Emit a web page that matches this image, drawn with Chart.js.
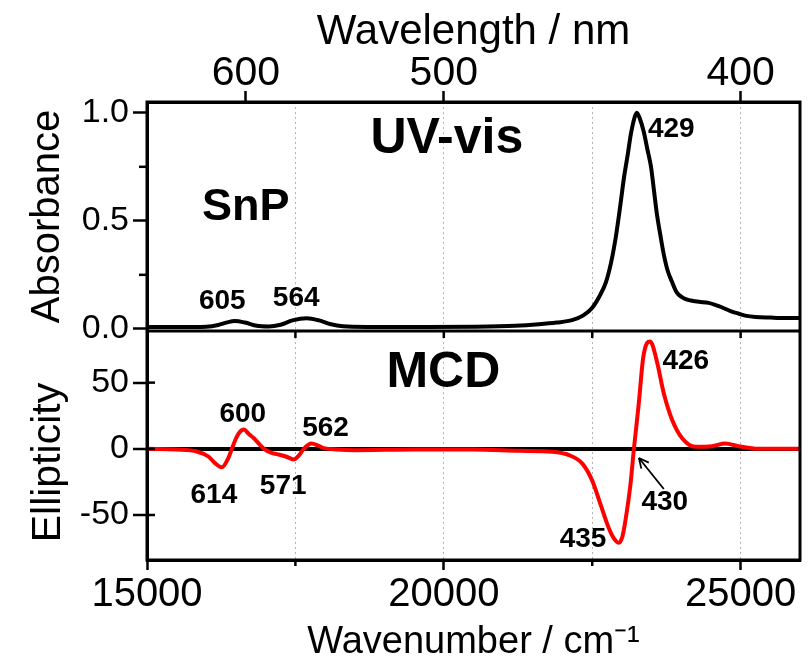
<!DOCTYPE html>
<html>
<head>
<meta charset="utf-8">
<script src="https://cdn.jsdelivr.net/npm/chart.js@4.4.1/dist/chart.umd.min.js"></script>
<style>
html,body{margin:0;padding:0;background:#fff;}
#wrap{width:810px;height:658px;position:relative;}
</style>
</head>
<body>
<div id="wrap"><canvas id="c" width="810" height="658"></canvas></div>
<script>
// ---------- data ----------
const absWavenumber = [15000,15500,16000,16200,16350,16480,16650,16850,17050,17250,17450,17690,17900,18100,18300,18700,19500,20500,21200,21600,21900,22160,22350,22500,22620,22730,22820,22900,22970,23035,23100,23150,23210,23250,23300,23370,23430,23490,23540,23590,23650,23705,23770,23840,23920,24010,24100,24180,24300,24460,24580,24680,24830,24970,25100,25250,25500,25750,26000];
const absValue = [0.008,0.008,0.010,0.018,0.030,0.036,0.029,0.014,0.011,0.019,0.039,0.049,0.039,0.021,0.012,0.009,0.009,0.010,0.014,0.021,0.029,0.040,0.062,0.098,0.150,0.215,0.310,0.430,0.565,0.700,0.810,0.900,0.975,1.000,0.975,0.910,0.830,0.750,0.640,0.530,0.430,0.345,0.270,0.220,0.170,0.147,0.135,0.130,0.125,0.120,0.110,0.100,0.082,0.070,0.060,0.055,0.052,0.050,0.050];

const mcdWavenumber = [15000,15500,15840,16040,16150,16260,16370,16430,16500,16550,16630,16720,16800,16970,17100,17190,17350,17470,17560,17640,17770,17900,17980,18200,18500,19500,20500,21270,21830,22110,22330,22500,22640,22780,22870,22950,23010,23060,23145,23200,23285,23355,23425,23470,23510,23595,23705,23845,24015,24240,24520,24740,24965,25300,26000];
const mcdValue = [0,-0.5,-2,-6,-11,-14,-7,0,8,12,14.5,11,8,0,-3,-4,-6,-8,-5,0,4,2,0.5,-0.5,-1,-0.5,-0.5,-1.5,-2.3,-4.8,-11,-24,-42,-60,-68,-71,-66,-54,-26.5,-1,34.6,67.7,80,81,79,65,42,22,8,1.5,2,4,2,0,0];

const xTickValues = [15000, 17500, 20000, 22500, 25000];
const xTickLabels = ['15000', '', '20000', '', '25000'];
const xMinorTicks = [17500, 22500];
const wavelengthTicks = [600, 500, 400];
const absTickValues = [0, 0.5, 1.0];
const absTickLabels = ['0.0', '0.5', '1.0'];
const absMinorTicks = [0.25, 0.75];
const mcdTickValues = [-50, 0, 50];
const mcdTickLabels = ['-50', '0', '50'];

const peakLabelsAbs = ['429', '605', '564'];
const peakLabelsMcd = ['600', '562', '614', '571', '426', '430', '435'];

// ---------- layout of the annotation texts (data-space anchors) ----------
const FONT = '"Liberation Sans", Arial, Helvetica, sans-serif';
const annotations = [
  {text: 'UV-vis', axis: 'yA', x: 20051, y: 0.814, size: 50},
  {text: 'SnP', axis: 'yA', x: 16664, y: 0.504, size: 45},
  {text: peakLabelsAbs[0], axis: 'yA', x: 23832, y: 0.888, size: 28},
  {text: peakLabelsAbs[1], axis: 'yA', x: 16269, y: 0.092, size: 28},
  {text: peakLabelsAbs[2], axis: 'yA', x: 17513, y: 0.106, size: 28},
  {text: 'MCD', axis: 'yM', x: 19992, y: 46.7, size: 50},
  {text: peakLabelsMcd[0], axis: 'yM', x: 16613, y: 20.25, size: 28},
  {text: peakLabelsMcd[1], axis: 'yM', x: 18008, y: 9.7, size: 28},
  {text: peakLabelsMcd[2], axis: 'yM', x: 16126, y: -40.9, size: 28},
  {text: peakLabelsMcd[3], axis: 'yM', x: 17294, y: -34.1, size: 28},
  {text: peakLabelsMcd[4], axis: 'yM', x: 24076, y: 60.3, size: 28},
  {text: peakLabelsMcd[5], axis: 'yM', x: 23723, y: -46.2, size: 28},
  {text: peakLabelsMcd[6], axis: 'yM', x: 22345, y: -74.2, size: 28}
];
const arrowSpec = {axis: 'yM', from: [23706, -30.4], to: [23286, -6.9]};

Chart.defaults.color = '#000';
Chart.defaults.font.family = FONT;

const decor = {
  id: 'decor',
  afterDatasetsDraw(chart) {
    const {ctx, chartArea: ca, scales} = chart;
    const x = scales.x, yA = scales.yA, yM = scales.yM;
    const line = (x1, y1, x2, y2) => { ctx.beginPath(); ctx.moveTo(x1, y1); ctx.lineTo(x2, y2); ctx.stroke(); };
    ctx.save();
    ctx.strokeStyle = '#000';
    ctx.lineWidth = 3;
    ctx.strokeRect(ca.left, ca.top, ca.right - ca.left, ca.bottom - ca.top);
    line(ca.left, yA.bottom, ca.right, yA.bottom);
    ctx.lineWidth = 2.5;
    xMinorTicks.forEach(v => { const px = x.getPixelForValue(v); line(px, ca.bottom, px, ca.bottom + 6); });
    absMinorTicks.forEach(v => { const py = yA.getPixelForValue(v); line(ca.left - 8, py, ca.left, py); });
    xTickValues.slice(1).forEach(v => { const px = x.getPixelForValue(v); line(px, yM.top, px, yM.top + 7); });
    mcdTickValues.forEach(v => { const py = yM.getPixelForValue(v); line(ca.left, py, ca.left + 8, py); });

    ctx.fillStyle = '#000';
    ctx.textAlign = 'center';
    ctx.textBaseline = 'alphabetic';
    annotations.forEach(a => {
      ctx.font = 'bold ' + a.size + 'px ' + FONT;
      ctx.fillText(a.text, x.getPixelForValue(a.x), scales[a.axis].getPixelForValue(a.y));
    });

    const ys = scales[arrowSpec.axis];
    const tx = x.getPixelForValue(arrowSpec.from[0]), ty = ys.getPixelForValue(arrowSpec.from[1]);
    const hx = x.getPixelForValue(arrowSpec.to[0]), hy = ys.getPixelForValue(arrowSpec.to[1]);
    ctx.lineWidth = 1.8;
    line(tx, ty, hx, hy);
    const ang = Math.atan2(hy - ty, hx - tx);
    const L = 11;
    line(hx, hy, hx - L * Math.cos(ang - 0.45), hy - L * Math.sin(ang - 0.45));
    line(hx, hy, hx - L * Math.cos(ang + 0.45), hy - L * Math.sin(ang + 0.45));
    ctx.restore();
  }
};

new Chart(document.getElementById('c'), {
  type: 'line',
  data: {
    datasets: [
      {
        label: 'Absorbance',
        data: absWavenumber.map((v, i) => ({x: v, y: absValue[i]})),
        xAxisID: 'x', yAxisID: 'yA',
        borderColor: '#000', borderWidth: 4, pointRadius: 0,
        cubicInterpolationMode: 'monotone', fill: false
      },
      {
        label: 'Ellipticity',
        data: mcdWavenumber.map((v, i) => ({x: v, y: mcdValue[i]})),
        xAxisID: 'x', yAxisID: 'yM',
        borderColor: '#ff0000', borderWidth: 4, pointRadius: 0,
        cubicInterpolationMode: 'monotone', fill: false
      }
    ]
  },
  options: {
    responsive: false,
    animation: false,
    devicePixelRatio: 1,
    layout: {padding: {left: 0, right: 10, top: 0, bottom: 0}},
    plugins: {legend: {display: false}, tooltip: {enabled: false}},
    scales: {
      x: {
        type: 'linear', position: 'bottom', min: 15000, max: 26000,
        afterBuildTicks: s => { s.ticks = xTickValues.map(v => ({value: v})); },
        afterFit: s => { s.height = 98; },
        ticks: {autoSkip: false, maxRotation: 0, minRotation: 0, padding: 1,
                font: {size: 40, lineHeight: 1.2}, color: '#000',
                callback: (v, i) => xTickLabels[i]},
        grid: {display: true, drawOnChartArea: true, color: '#b4b4b4', lineWidth: 1,
               drawTicks: true, tickLength: 10, tickWidth: 2.5,
               tickColor: c => (c.tick && xMinorTicks.includes(c.tick.value)) ? 'rgba(0,0,0,0)' : '#000'},
        border: {display: true, color: '#000', width: 3, dash: [2, 3]},
        title: {display: true, text: 'Wavenumber / cm⁻¹', color: '#000',
                font: {size: 38, lineHeight: 0.8}, padding: {top: 0, bottom: 0}}
      },
      x2: {
        type: 'linear', position: 'top', min: 15000, max: 26000,
        afterBuildTicks: s => { s.ticks = wavelengthTicks.map(w => ({value: 1e7 / w})); },
        afterFit: s => { s.height = 102; },
        ticks: {autoSkip: false, maxRotation: 0, minRotation: 0, padding: 0,
                font: {size: 41, lineHeight: 0.85}, color: '#000',
                callback: (v, i) => String(wavelengthTicks[i])},
        grid: {drawOnChartArea: false, tickLength: 11, tickWidth: 2.5, tickColor: '#000'},
        border: {display: true, color: '#000', width: 3},
        title: {display: true, text: 'Wavelength / nm', color: '#000',
                font: {size: 42, lineHeight: 1.2}, padding: {top: 7, bottom: 0}}
      },
      yA: {
        type: 'linear', position: 'left', stack: 'panels', stackWeight: 1, weight: 1,
        min: -0.01, max: 1.05,
        afterBuildTicks: s => { s.ticks = absTickValues.map(v => ({value: v})); },
        afterFit: s => { s.width = 147; },
        ticks: {padding: 4, font: {size: 34}, color: '#000', callback: (v, i) => absTickLabels[i]},
        grid: {drawOnChartArea: false, tickLength: 14, tickWidth: 2.5, tickColor: '#000'},
        border: {display: true, color: '#000', width: 3},
        title: {display: true, text: 'Absorbance', color: '#000',
                font: {size: 40, lineHeight: 1.2}, padding: {top: 24, bottom: 0}}
      },
      yM: {
        type: 'linear', position: 'left', stack: 'panels', stackWeight: 1, weight: 0,
        min: -84, max: 89,
        afterBuildTicks: s => { s.ticks = mcdTickValues.map(v => ({value: v})); },
        afterFit: s => { s.width = 147; },
        ticks: {padding: 4, font: {size: 34}, color: '#000', callback: (v, i) => mcdTickLabels[i]},
        grid: {drawOnChartArea: true, lineWidth: 4,
               color: c => (c.tick && c.tick.value === 0) ? '#000' : 'rgba(0,0,0,0)',
               tickLength: 14, tickWidth: 2.5, tickColor: '#000'},
        border: {display: true, color: '#000', width: 3},
        title: {display: true, text: 'Ellipticity   ', color: '#000',
                font: {size: 41, lineHeight: 1.2}, padding: {top: 24, bottom: 0}}
      }
    }
  },
  plugins: [decor]
});
</script>
</body>
</html>
